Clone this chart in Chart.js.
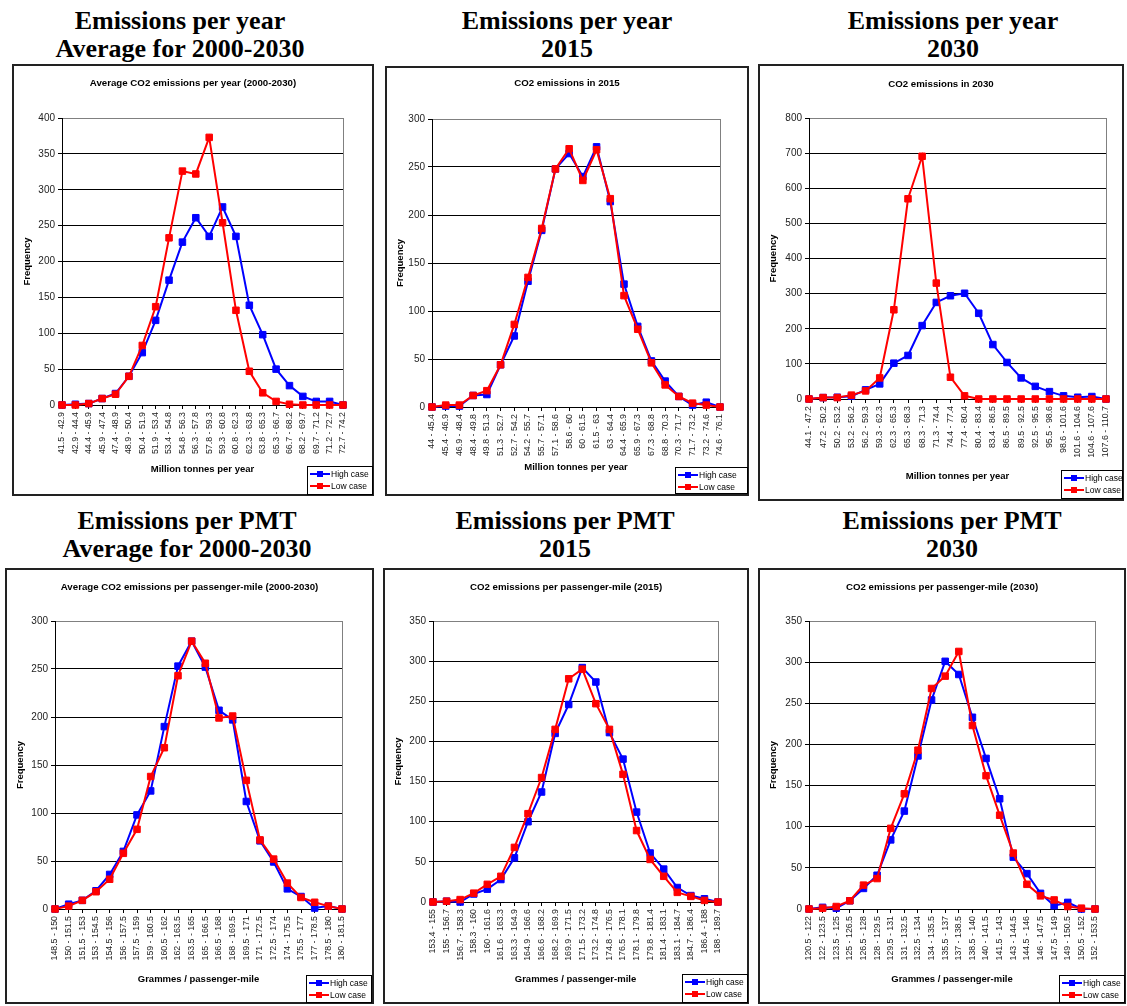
<!DOCTYPE html>
<html><head><meta charset="utf-8">
<script src="https://cdn.jsdelivr.net/npm/chart.js@4.4.1/dist/chart.umd.min.js"></script>
<style>
body{margin:0;background:#fff;width:1127px;height:1006px;position:relative;overflow:hidden;font-family:"Liberation Sans",Arial,sans-serif}
.head{position:absolute;font-family:"Liberation Serif","Times New Roman",serif;font-weight:bold;font-size:26px;line-height:28px;text-align:center;width:380px;color:#000;white-space:nowrap}
.box{position:absolute;border:2px solid #222;box-sizing:border-box;pointer-events:none}
canvas{position:absolute}
.ctitle{position:absolute;font:bold 9.7px "Liberation Sans",Arial,sans-serif;text-align:center;color:#000;height:12px;line-height:12px;white-space:nowrap}
.legend{position:absolute;border:1px solid #000;background:#fff;box-sizing:border-box;font:8.5px "Liberation Sans",Arial,sans-serif;color:#000;padding-top:1px;overflow:hidden}
.legend .row{height:12px;display:flex;align-items:center;padding-left:2px;white-space:nowrap}
.legend .ln{display:inline-block;width:20px;height:2px;position:relative;margin-right:1px;flex:none}
.legend .ln i{position:absolute;left:7px;top:-2px;width:6px;height:6px}
</style>
</head><body>
<script>
// ---------- DATA ----------
const labelsYearAvg = ["41.5 - 42.9","42.9 - 44.4","44.4 - 45.9","45.9 - 47.4","47.4 - 48.9","48.9 - 50.4","50.4 - 51.9","51.9 - 53.4","53.4 - 54.8","54.8 - 56.3","56.3 - 57.8","57.8 - 59.3","59.3 - 60.8","60.8 - 62.3","62.3 - 63.8","63.8 - 65.3","65.3 - 66.7","66.7 - 68.2","68.2 - 69.7","69.7 - 71.2","71.2 - 72.7","72.7 - 74.2"];
const highYearAvg = [0,1,2,9,16,40,73,118,174,227,261,235,276,235,139,98,50,27,12,5,5,0];
const lowYearAvg  = [0,0,2,9,15,40,83,137,233,326,322,373,254,132,47,17,5,1,0,0,0,0];

const labelsYear2015 = ["44 - 45.4","45.4 - 46.9","46.9 - 48.4","48.4 - 49.8","49.8 - 51.3","51.3 - 52.7","52.7 - 54.2","54.2 - 55.7","55.7 - 57.1","57.1 - 58.6","58.6 - 60","60 - 61.5","61.5 - 63","63 - 64.4","64.4 - 65.9","65.9 - 67.3","67.3 - 68.8","68.8 - 70.3","70.3 - 71.7","71.7 - 73.2","73.2 - 74.6","74.6 - 76.1"];
const highYear2015 = [0,1,1,12,13,44,74,131,184,248,264,240,271,214,128,84,48,27,11,2,5,0];
const lowYear2015  = [0,2,2,12,17,44,86,135,186,248,269,236,268,217,116,81,46,23,11,4,2,0];

const labelsYear2030 = ["44.1 - 47.2","47.2 - 50.2","50.2 - 53.2","53.2 - 56.2","56.2 - 59.3","59.3 - 62.3","62.3 - 65.3","65.3 - 68.3","68.3 - 71.3","71.3 - 74.4","74.4 - 77.4","77.4 - 80.4","80.4 - 83.4","83.4 - 86.5","86.5 - 89.5","89.5 - 92.5","92.5 - 95.5","95.5 - 98.6","98.6 - 101.6","101.6 - 104.6","104.6 - 107.6","107.6 - 110.7"];
const highYear2030 = [0,4,5,8,26,43,102,124,209,275,294,301,244,155,104,60,36,21,9,5,7,0];
const lowYear2030  = [0,4,4,11,23,60,254,570,691,330,62,9,0,0,0,0,0,0,0,0,0,0];

const labelsPmtAvg = ["148.5 - 150","150 - 151.5","151.5 - 153","153 - 154.5","154.5 - 156","156 - 157.5","157.5 - 159","159 - 160.5","160.5 - 162","162 - 163.5","163.5 - 165","165 - 166.5","166.5 - 168","168 - 169.5","169.5 - 171","171 - 172.5","172.5 - 174","174 - 175.5","175.5 - 177","177 - 178.5","178.5 - 180","180 - 181.5"];
const highPmtAvg = [0,5,9,19,36,60,98,123,190,253,279,252,207,197,112,71,49,21,13,1,3,0];
const lowPmtAvg  = [0,3,9,18,31,58,83,138,168,243,279,256,199,201,134,72,52,27,12,7,3,0];

const labelsPmt2015 = ["153.4 - 155","155 - 156.7","156.7 - 158.3","158.3 - 160","160 - 161.6","161.6 - 163.3","163.3 - 164.9","164.9 - 166.6","166.6 - 168.2","168.2 - 169.9","169.9 - 171.5","171.5 - 173.2","173.2 - 174.8","174.8 - 176.5","176.5 - 178.1","178.1 - 179.8","179.8 - 181.4","181.4 - 183.1","183.1 - 184.7","184.7 - 186.4","186.4 - 188","188 - 189.7"];
const highPmt2015 = [0,1,0,10,16,28,55,100,137,210,246,292,274,211,178,112,61,41,18,8,4,0];
const lowPmt2015  = [0,1,3,11,22,32,68,110,155,215,278,290,247,215,159,89,53,32,12,7,2,0];

const labelsPmt2030 = ["120.5 - 122","122 - 123.5","123.5 - 125","125 - 126.5","126.5 - 128","128 - 129.5","129.5 - 131","131 - 132.5","132.5 - 134","134 - 135.5","135.5 - 137","137 - 138.5","138.5 - 140","140 - 141.5","141.5 - 143","143 - 144.5","144.5 - 146","146 - 147.5","147.5 - 149","149 - 150.5","150.5 - 152","152 - 153.5"];
const highPmt2030 = [0,2,1,10,25,41,84,119,186,254,301,285,233,183,134,63,43,19,4,8,0,0];
const lowPmt2030  = [0,1,3,10,29,37,98,140,193,268,283,313,223,162,114,68,30,16,11,3,1,0];

const seriesNames = ["High case","Low case"];
const seriesColors = ["#0000ff","#ff0000"];

// ---------- HEADINGS ----------
const headings = [
  {c:180, t:7,   lines:["Emissions per year","Average for 2000-2030"]},
  {c:567, t:7,   lines:["Emissions per year","2015"]},
  {c:953, t:7,   lines:["Emissions per year","2030"]},
  {c:187, t:507, lines:["Emissions per PMT","Average for 2000-2030"]},
  {c:565, t:507, lines:["Emissions per PMT","2015"]},
  {c:952, t:507, lines:["Emissions per PMT","2030"]}
];
headings.forEach(h=>{
  const d=document.createElement('div');
  d.className='head';
  d.style.left=(h.c-190)+'px'; d.style.top=h.t+'px';
  d.innerHTML=h.lines.join('<br>');
  document.body.appendChild(d);
});

// ---------- PANELS ----------
const panels = [
  {labels:labelsYearAvg, high:highYearAvg, low:lowYearAvg, max:400, step:50,
   title:"Average CO2 emissions per year (2000-2030)", xTitle:"Million tonnes per year",
   box:[12,64,374,496], plot:[62,118,343,405], yT:27, xT:469, leg:[307,466,373,495], tY:83},
  {labels:labelsYear2015, high:highYear2015, low:lowYear2015, max:300, step:50,
   title:"CO2 emissions in 2015", xTitle:"Million tonnes per year",
   box:[385,66,749,496], plot:[432,119,720,407], yT:400, xT:467, leg:[675,467,748,494], tY:83},
  {labels:labelsYear2030, high:highYear2030, low:lowYear2030, max:800, step:100,
   title:"CO2 emissions in 2030", xTitle:"Million tonnes per year",
   box:[758,64,1124,501], plot:[809,118,1106,399], yT:773, xT:476, leg:[1061,470,1123,499], tY:84},
  {labels:labelsPmtAvg, high:highPmtAvg, low:lowPmtAvg, max:300, step:50,
   title:"Average CO2 emissions per passenger-mile (2000-2030)", xTitle:"Grammes / passenger-mile",
   box:[5,568,374,1004], plot:[55,621,342,909], yT:20, xT:979, leg:[306,975,372,1003], tY:587},
  {labels:labelsPmt2015, high:highPmt2015, low:lowPmt2015, max:350, step:50,
   title:"CO2 emissions per passenger-mile (2015)", xTitle:"Grammes / passenger-mile",
   box:[383,568,749,1004], plot:[433,621,718,902], yT:398, xT:979, leg:[682,974,748,1003], tY:587},
  {labels:labelsPmt2030, high:highPmt2030, low:lowPmt2030, max:350, step:50,
   title:"CO2 emissions per passenger-mile (2030)", xTitle:"Grammes / passenger-mile",
   box:[758,568,1126,1004], plot:[809,621,1095,909], yT:773, xT:979, leg:[1059,975,1125,1003], tY:587}
];

const FONT = '"Liberation Sans", Arial, sans-serif';
const frame = {
  id:'frame',
  beforeDatasetsDraw(chart){
    const {ctx, chartArea:a} = chart;
    ctx.save();
    ctx.strokeStyle='#808080'; ctx.lineWidth=1;
    ctx.beginPath();
    const x=Math.round(a.right)+0.5;
    ctx.moveTo(x, Math.round(a.top)); ctx.lineTo(x, Math.round(a.bottom));
    ctx.stroke();
    ctx.restore();
  }
};

function makePanel(p){
  const W=p.box[2]-p.box[0], H=p.box[3]-p.box[1];
  const cv=document.createElement('canvas');
  cv.width=W; cv.height=H;
  cv.style.left=p.box[0]+'px'; cv.style.top=p.box[1]+'px';
  cv.style.width=W+'px'; cv.style.height=H+'px';
  document.body.appendChild(cv);

  const lh=9.5*1.2;
  const yW=p.plot[0]-(p.yT-lh/2);
  const xH=p.xT+lh/2-p.plot[3];
  const mk=(i,data,order)=>({
    label:seriesNames[i], data, borderColor:seriesColors[i], backgroundColor:seriesColors[i],
    pointBackgroundColor:seriesColors[i], pointBorderColor:seriesColors[i], pointBorderWidth:1,
    pointStyle:'rect', pointRadius:4.6, borderWidth:2, tension:0, clip:false, order
  });
  new Chart(cv,{
    type:'line',
    data:{labels:p.labels, datasets:[mk(0,p.high,1), mk(1,p.low,0)]},
    options:{
      responsive:false, animation:false, devicePixelRatio:1,
      layout:{padding:{left:p.yT-lh/2-p.box[0], top:p.plot[1]-p.box[1], right:p.box[2]-p.plot[2], bottom:p.box[3]-(p.xT+lh/2)}},
      plugins:{legend:{display:false}, title:{display:false}, tooltip:{enabled:false}},
      scales:{
        x:{
          type:'category', offset:false,
          afterFit:s=>{s.height=xH;},
          grid:{display:true, drawOnChartArea:false, drawTicks:true, tickLength:4, tickColor:'#000', offset:false},
          border:{display:true, color:'#000', width:1},
          ticks:{autoSkip:false, minRotation:90, maxRotation:90, padding:3, color:'#222', font:{family:FONT, size:8.8}},
          title:{display:true, text:p.xTitle, color:'#000', padding:0, font:{family:FONT, size:9.5, weight:'bold'}}
        },
        y:{
          min:0, max:p.max,
          afterFit:s=>{s.width=yW;},
          ticks:{stepSize:p.step, padding:3, color:'#222', font:{family:FONT, size:10}},
          grid:{color:c=>(c.tick && c.tick.value===p.max)?'#808080':'#000', tickColor:'#000', tickLength:4, lineWidth:1},
          border:{display:true, color:'#000', width:1},
          title:{display:true, text:'Frequency', color:'#000', padding:0, font:{family:FONT, size:9.5, weight:'bold'}}
        }
      }
    },
    plugins:[frame]
  });

  const b=document.createElement('div');
  b.className='box';
  b.style.left=p.box[0]+'px'; b.style.top=p.box[1]+'px';
  b.style.width=W+'px'; b.style.height=H+'px';
  document.body.appendChild(b);

  const t=document.createElement('div');
  t.className='ctitle';
  t.style.left=p.box[0]+'px'; t.style.width=W+'px'; t.style.top=(p.tY-6)+'px';
  t.textContent=p.title;
  document.body.appendChild(t);

  const lg=document.createElement('div');
  lg.className='legend';
  lg.style.left=p.leg[0]+'px'; lg.style.top=p.leg[1]+'px';
  lg.style.width=(p.leg[2]-p.leg[0])+'px'; lg.style.height=(p.leg[3]-p.leg[1])+'px';
  seriesNames.forEach((n,i)=>{
    const r=document.createElement('div'); r.className='row';
    const s=document.createElement('span'); s.className='ln'; s.style.background=seriesColors[i];
    const q=document.createElement('i'); q.style.background=seriesColors[i];
    s.appendChild(q); r.appendChild(s);
    r.appendChild(document.createTextNode(n));
    lg.appendChild(r);
  });
  document.body.appendChild(lg);
}
panels.forEach(makePanel);
</script>
</body></html>
